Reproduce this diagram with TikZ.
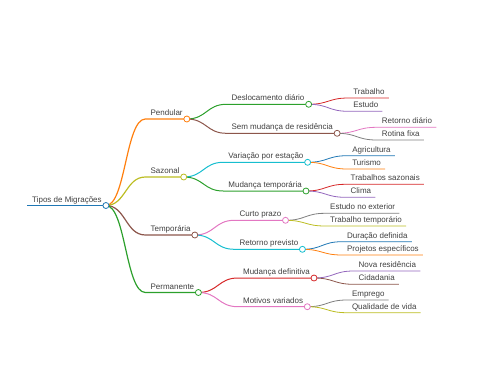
\documentclass[tikz,border=0pt]{standalone}
\usepackage{fontspec}
\setmainfont{Liberation Sans}
\usetikzlibrary{calc}
\definecolor{cBlue}{HTML}{1F77B4}
\definecolor{cOrange}{HTML}{FF7F0E}
\definecolor{cGreen}{HTML}{2CA02C}
\definecolor{cRed}{HTML}{D62728}
\definecolor{cPurple}{HTML}{9467BD}
\definecolor{cBrown}{HTML}{8C564B}
\definecolor{cPink}{HTML}{E377C2}
\definecolor{cGray}{HTML}{7F7F7F}
\definecolor{cOlive}{HTML}{BCBD22}
\definecolor{cCyan}{HTML}{17BECF}
\pgfdeclarelayer{fg}
\pgfsetlayers{main,fg}
\tikzset{
  lbl/.style={inner sep=0pt, anchor=base west, text=black!75, font=\fontsize{8}{9.6}\selectfont},
  dot/.style={fill=white, line width=0.8pt},
  lvA/.style={line width=1.2pt},
  lvB/.style={line width=1.0pt},
  lvC/.style={line width=0.8pt}
}
\newcommand\mmlink[6]{%
  \coordinate (#1s) at ($(#2c |- 0,#3)+(39.5,0)$);
  \node[lbl] (#1) at ($(#1s)+(5,-3.5)$) {#6};
  \coordinate (#1c) at ($(#1.base east)+(4,3.5)$);
  \coordinate (#1m) at ($(#2c)!0.5!(#1s)$);
  \draw[#4, #5] (#2c) .. controls (#1m |- #2c) and (#1m |- #1s) .. (#1s) -- (#1c);
}
\newcommand\mmnode[6]{%
  \mmlink{#1}{#2}{#3}{#4}{#5}{#6}%
  \begin{pgfonlayer}{fg}\draw[#4, dot] (#1c) circle (3pt);\end{pgfonlayer}%
}
\begin{document}
\begin{tikzpicture}[x=1pt, y=-1pt]
\useasboundingbox (0,0) rectangle (480,384);
% root
\coordinate (roots) at (27,205.5);
\node[lbl] (root) at (32,202) {Tipos de Migrações};
\coordinate (rootc) at ($(root.base east)+(4,3.5)$);
\draw[cBlue, line width=1.4pt] (roots) -- (rootc);
\begin{pgfonlayer}{fg}\draw[cBlue, dot] (rootc) circle (3pt);\end{pgfonlayer}
% Pendular
\mmnode{A}{root}{119}{cOrange}{lvA}{Pendular}
\mmnode{AA}{A}{104.3}{cGreen}{lvB}{Deslocamento diário}
\mmlink{AAA}{AA}{98}{cRed}{lvC}{Trabalho}
\mmlink{AAB}{AA}{111.3}{cPurple}{lvC}{Estudo}
\mmnode{AB}{A}{133.3}{cBrown}{lvB}{Sem mudança de residência}
\mmlink{ABA}{AB}{127.3}{cPink}{lvC}{Retorno diário}
\mmlink{ABB}{AB}{140}{cGray}{lvC}{Rotina fixa}
% Sazonal
\mmnode{B}{root}{177}{cOlive}{lvA}{Sazonal}
\mmnode{BA}{B}{162.3}{cCyan}{lvB}{Variação por estação}
\mmlink{BAA}{BA}{155.7}{cBlue}{lvC}{Agricultura}
\mmlink{BAB}{BA}{169}{cOrange}{lvC}{Turismo}
\mmnode{BB}{B}{191}{cGreen}{lvB}{Mudança temporária}
\mmlink{BBA}{BB}{184.3}{cRed}{lvC}{Trabalhos sazonais}
\mmlink{BBB}{BB}{197.3}{cPurple}{lvC}{Clima}
% Temporaria
\mmnode{C}{root}{235}{cBrown}{lvA}{Temporária}
\mmnode{CA}{C}{220.3}{cPink}{lvB}{Curto prazo}
\mmlink{CAA}{CA}{213.3}{cGray}{lvC}{Estudo no exterior}
\mmlink{CAB}{CA}{226}{cOlive}{lvC}{Trabalho temporário}
\mmnode{CB}{C}{249.3}{cCyan}{lvB}{Retorno previsto}
\mmlink{CBA}{CB}{241.7}{cBlue}{lvC}{Duração definida}
\mmlink{CBB}{CB}{255}{cOrange}{lvC}{Projetos específicos}
% Permanente
\mmnode{D}{root}{292.5}{cGreen}{lvA}{Permanente}
\mmnode{DA}{D}{278}{cRed}{lvB}{Mudança definitiva}
\mmlink{DAA}{DA}{271}{cPurple}{lvC}{Nova residência}
\mmlink{DAB}{DA}{284.3}{cBrown}{lvC}{Cidadania}
\mmnode{DB}{D}{306.7}{cPink}{lvB}{Motivos variados}
\mmlink{DBA}{DB}{300}{cGray}{lvC}{Emprego}
\mmlink{DBB}{DB}{312.7}{cOlive}{lvC}{Qualidade de vida}
\end{tikzpicture}
\end{document}
